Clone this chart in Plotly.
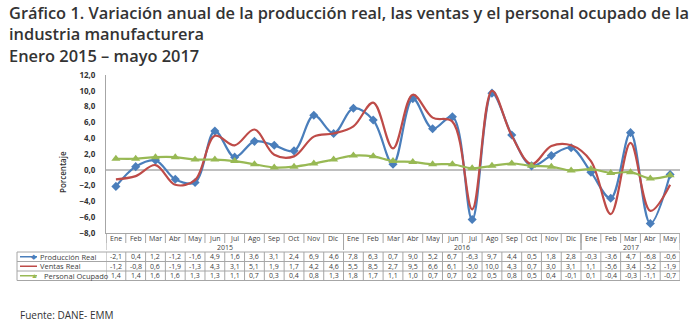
import plotly.graph_objects as go

# Monthly categories, Jan 2015 - May 2017
months = ["Ene", "Feb", "Mar", "Abr", "May", "Jun", "Jul", "Ago", "Sep", "Oct", "Nov", "Dic",
          "Ene", "Feb", "Mar", "Abr", "May", "Jun", "Jul", "Ago", "Sep", "Oct", "Nov", "Dic",
          "Ene", "Feb", "Mar", "Abr", "May"]
years = ["2015", "2016", "2017"]
year_spans = [(0, 11), (12, 23), (24, 28)]

produccion = [-2.1, 0.4, 1.2, -1.2, -1.6, 4.9, 1.6, 3.6, 3.1, 2.4, 6.9, 4.6,
              7.8, 6.3, 0.7, 9.0, 5.2, 6.7, -6.3, 9.7, 4.4, 0.5, 1.8, 2.8,
              -0.3, -3.6, 4.7, -6.8, -0.6]
ventas = [-1.2, -0.8, 0.6, -1.9, -1.3, 4.3, 3.1, 5.1, 1.9, 1.7, 4.2, 4.6,
          5.5, 8.5, 2.7, 9.5, 6.6, 6.1, -5.0, 10.0, 4.3, 0.7, 3.0, 3.1,
          1.1, -5.6, 3.4, -5.2, -1.9]
personal = [1.4, 1.4, 1.6, 1.6, 1.3, 1.3, 1.1, 0.7, 0.3, 0.4, 0.8, 1.3,
            1.8, 1.7, 1.1, 1.0, 0.7, 0.7, 0.2, 0.5, 0.8, 0.5, 0.4, -0.1,
            0.1, -0.4, -0.3, -1.1, -0.7]

series_names = ["Producción Real", "Ventas Real", "Personal Ocupado"]
series_values = [produccion, ventas, personal]
colors = ["#4A7EBB", "#BE4B48", "#98B954"]
symbols = ["diamond", None, "triangle-up"]
glyphs = ["◆", "", "▲"]

W, H = 700, 322
L, R, T, B = 106, 680, 75, 233  # plot area in pixels


def px(x):
    return (x - L) / (R - L)


def py(y):
    return (B - y) / (B - T)


x = list(range(len(months)))
fig = go.Figure()
for name, vals, col, sym in zip(series_names, series_values, colors, symbols):
    fig.add_trace(go.Scatter(
        x=x, y=vals, name=name, mode="lines+markers" if sym else "lines",
        line=dict(color=col, width=2.2, shape="spline", smoothing=1.0),
        marker=dict(symbol=sym or "circle", size=7 if sym == "diamond" else 8, color=col),
        showlegend=False, hoverinfo="skip"))

grid = "#A6A6A6"
txt = "#404040"
shapes = []
ann = []

# Category row separators
for i in range(len(months) + 1):
    shapes.append(dict(type="line", xref="x", yref="paper", x0=i - 0.5, x1=i - 0.5,
                       y0=py(233), y1=py(243), line=dict(color=grid, width=1)))
for a, b in year_spans:
    for xb in (a - 0.5, b + 0.5):
        shapes.append(dict(type="line", xref="x", yref="paper", x0=xb, x1=xb,
                           y0=py(233), y1=py(250), line=dict(color=grid, width=1)))
for i, m in enumerate(months):
    ann.append(dict(x=i, y=py(238), xref="x", yref="paper", text=m, showarrow=False,
                    font=dict(size=7, color=txt, family="Open Sans"), yanchor="middle"))
for (a, b), yr in zip(year_spans, years):
    ann.append(dict(x=(a + b) / 2, y=py(247), xref="x", yref="paper", text=yr, showarrow=False,
                    font=dict(size=7, color=txt, family="Open Sans"), yanchor="middle"))

# Data table below the axis
row_edges = [252, 261.5, 271, 280.5]
for ye in row_edges:
    shapes.append(dict(type="line", xref="paper", yref="paper", x0=px(17), x1=1,
                       y0=py(ye), y1=py(ye), line=dict(color=grid, width=1)))
shapes.append(dict(type="line", xref="paper", yref="paper", x0=px(17), x1=px(17),
                   y0=py(252), y1=py(280.5), line=dict(color=grid, width=1)))
for i in range(len(months) + 1):
    shapes.append(dict(type="line", xref="x", yref="paper", x0=i - 0.5, x1=i - 0.5,
                       y0=py(252), y1=py(280.5), line=dict(color=grid, width=1)))

for r, (name, vals, col, g) in enumerate(zip(series_names, series_values, colors, glyphs)):
    yc = (row_edges[r] + row_edges[r + 1]) / 2
    shapes.append(dict(type="line", xref="paper", yref="paper", x0=px(20), x1=px(37),
                       y0=py(yc), y1=py(yc), line=dict(color=col, width=1.5)))
    if g:
        ann.append(dict(x=px(28.5), y=py(yc), xref="paper", yref="paper", text=g,
                        showarrow=False, font=dict(size=7, color=col), yanchor="middle"))
    ann.append(dict(x=px(38 if r < 2 else 42), y=py(yc), xref="paper", yref="paper", text=name,
                    showarrow=False, xanchor="left", yanchor="middle",
                    font=dict(size=7.5, color=txt, family="Open Sans")))
    for i, v in enumerate(vals):
        ann.append(dict(x=i, y=py(yc), xref="x", yref="paper",
                        text=f"{v:.1f}".replace(".", ","), showarrow=False, yanchor="middle",
                        font=dict(size=7, color=txt, family="Open Sans")))

# Titles and source
title_lines = ["Gráfico 1. Variación anual de la producción real, las ventas y el personal ocupado de la",
               "industria manufacturera",
               "Enero 2015 – mayo 2017"]
for k, line in enumerate(title_lines):
    ann.append(dict(x=px(7), y=py(13 + 21 * k), xref="paper", yref="paper", text=line,
                    showarrow=False, xanchor="left", yanchor="middle",
                    font=dict(size=16.4, color="#333333", family="Open Sans", weight=600)))
ann.append(dict(x=px(18), y=py(315), xref="paper", yref="paper", text="Fuente: DANE- EMM",
                showarrow=False, xanchor="left", yanchor="middle",
                font=dict(size=10, color="#333333", family="Open Sans")))
ann.append(dict(x=px(62), y=py(172), xref="paper", yref="paper", text="Porcentaje",
                showarrow=False, textangle=-90, xanchor="center", yanchor="middle",
                font=dict(size=8, color="#333333", family="Open Sans", weight=600)))

fig.update_layout(
    width=W, height=H,
    margin=dict(l=L, r=W - R, t=T, b=H - B),
    paper_bgcolor="white", plot_bgcolor="white",
    separators=",.",
    shapes=shapes, annotations=ann,
    xaxis=dict(range=[-0.5, len(months) - 0.5], showticklabels=False, showgrid=False,
               zeroline=False, showline=True, linecolor=grid, linewidth=1, ticks=""),
    yaxis=dict(range=[-8, 12], dtick=2, tickformat=".1f", showgrid=False,
               zeroline=True, zerolinecolor="#BFBFBF", zerolinewidth=1.5,
               showline=True, linecolor=grid, linewidth=1, ticks="",
               ticklabelstandoff=8,
               tickfont=dict(size=8, color="#333333", family="Open Sans", weight=700)),
)

fig.write_html("out.html")
